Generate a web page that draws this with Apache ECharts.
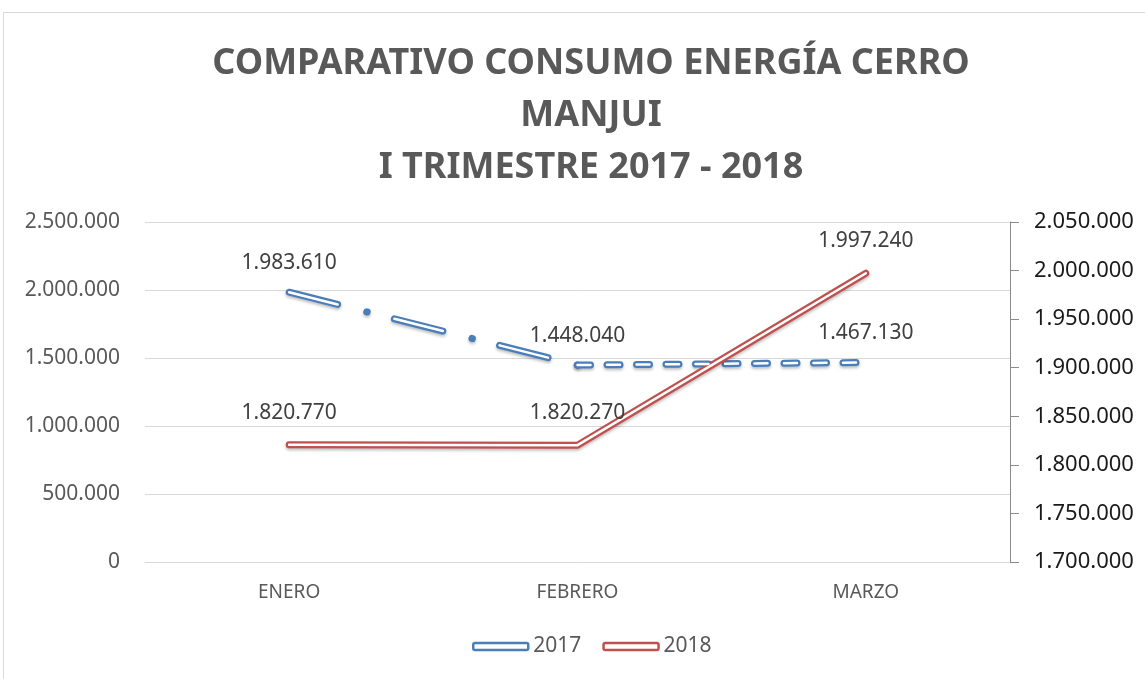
<!DOCTYPE html>
<html>
<head>
<meta charset="utf-8">
<script src="https://cdn.jsdelivr.net/npm/echarts@6/dist/echarts.min.js"></script>
<style>
  html, body { margin: 0; padding: 0; background: #fff; }
  #chart { width: 1145px; height: 679px; }
</style>
</head>
<body>
<div id="chart"></div>
<script>
// datos
const meses = ['ENERO', 'FEBRERO', 'MARZO'];
const consumo2017 = [1983610, 1448040, 1467130];
const consumo2018 = [1820770, 1820270, 1997240];
const ejeIzq = { min: 0, max: 2500000, interval: 500000 };
const ejeDer = { min: 1700000, max: 2050000, interval: 50000 };

const AZUL = '#4a7ebb';
const ROJO = '#c0504d';
const FUENTE = 'Noto Sans';

// formato 1.234.567
function miles(v) {
    return String(Math.round(v)).replace(/\B(?=(\d{3})+(?!\d))/g, '.');
}

// tramos del 2017 (cada tramo con su propio trazo)
const tramoA = consumo2017.map((v, i) => (i <= 1 ? v : null));
const tramoB = consumo2017.map((v, i) => (i >= 1 ? v : null));

const sombra = { shadowColor: 'rgba(0,0,0,0.25)', shadowBlur: 3, shadowOffsetY: 2 };

function lineaBase(nombre, datos, eje, estilo) {
    return {
        name: nombre,
        type: 'line',
        yAxisIndex: eje,
        data: datos,
        symbol: 'none',
        connectNulls: false,
        silent: true,
        lineStyle: estilo,
        z: estilo.z || 2
    };
}

function etiquetas(nombre, datos, eje, distancia) {
    return {
        name: nombre,
        type: 'line',
        yAxisIndex: eje,
        data: datos,
        symbol: 'circle',
        symbolSize: 1,
        itemStyle: { color: 'rgba(0,0,0,0)' },
        lineStyle: { width: 0, opacity: 0 },
        silent: true,
        label: {
            show: true,
            position: 'top',
            distance: distancia,
            color: '#404040',
            fontFamily: FUENTE,
            fontSize: 21,
            formatter: p => miles(p.value)
        },
        z: 5
    };
}

const chart = echarts.init(document.getElementById('chart'));

const option = {
    backgroundColor: '#fff',
    animation: false,
    title: {
        text: 'COMPARATIVO CONSUMO ENERGÍA CERRO\nMANJUI\nI TRIMESTRE 2017 - 2018',
        left: 586,
        top: 33,
        textAlign: 'center',
        textStyle: {
            color: '#595959',
            fontFamily: FUENTE,
            fontWeight: 'bold',
            fontSize: 36,
            lineHeight: 52
        }
    },
    legend: {
        bottom: 17,
        left: 467,
        itemWidth: 55,
        itemHeight: 7,
        itemGap: 21,
        textStyle: { color: '#595959', fontFamily: FUENTE, fontSize: 21 },
        data: [
            { name: '2017', icon: 'roundRect', itemStyle: { color: '#fff', borderColor: AZUL, borderWidth: 2.5 } },
            { name: '2018', icon: 'roundRect', itemStyle: { color: '#fff', borderColor: ROJO, borderWidth: 2.5 } }
        ]
    },
    graphic: [{
        type: 'rect',
        shape: { x: 3.5, y: 12.5, width: 1300, height: 800 },
        style: { fill: 'none', stroke: '#d9d9d9', lineWidth: 1 },
        silent: true,
        z: -10
    }],
    grid: { left: 145, right: 135, top: 222, bottom: 117 },
    xAxis: {
        type: 'category',
        data: meses,
        boundaryGap: true,
        axisLine: { show: true, lineStyle: { color: '#d9d9d9' } },
        axisTick: { show: false },
        axisLabel: { color: '#595959', fontFamily: FUENTE, fontSize: 19, margin: 21 }
    },
    yAxis: [{
        type: 'value',
        min: ejeIzq.min, max: ejeIzq.max, interval: ejeIzq.interval,
        axisLine: { show: false },
        axisTick: { show: false },
        splitLine: { lineStyle: { color: '#d9d9d9' } },
        axisLabel: { color: '#595959', fontFamily: FUENTE, fontSize: 21, margin: 25, formatter: miles }
    }, {
        type: 'value',
        position: 'right',
        min: ejeDer.min, max: ejeDer.max, interval: ejeDer.interval,
        axisLine: { show: true, lineStyle: { color: '#898989' } },
        axisTick: { show: true, inside: false, length: 9, lineStyle: { color: '#898989' } },
        splitLine: { show: false },
        axisLabel: { color: '#1a1a1a', fontFamily: FUENTE, fontSize: 22, margin: 24, formatter: miles }
    }],
    series: [
        // 2017: raya-punto larga de ENERO a FEBRERO
        lineaBase('2017', tramoA, 0, Object.assign({ color: AZUL, width: 7, type: [50, 30, 0.5, 28], cap: 'round' }, sombra)),
        lineaBase('2017 a', tramoA, 0, { color: '#fff', width: 2.5, type: [50, 58.5], cap: 'round', z: 3 }),
        // 2017: guiones cortos de FEBRERO a MARZO
        lineaBase('2017 b', tramoB, 0, Object.assign({ color: AZUL, width: 7, type: [13, 16.5], cap: 'round' }, sombra)),
        lineaBase('2017 c', tramoB, 0, { color: '#fff', width: 2.5, type: [13, 16.5], cap: 'round', z: 3 }),
        // 2018: línea doble continua
        lineaBase('2018', consumo2018, 1, Object.assign({ color: ROJO, width: 7, cap: 'round', join: 'round' }, sombra)),
        lineaBase('2018 a', consumo2018, 1, { color: '#fff', width: 2.5, cap: 'round', join: 'round', z: 3 }),
        etiquetas('2017 et', consumo2017, 0, 18),
        etiquetas('2018 et', consumo2018, 1, 21)
    ]
};

chart.setOption(option);
</script>
</body>
</html>
